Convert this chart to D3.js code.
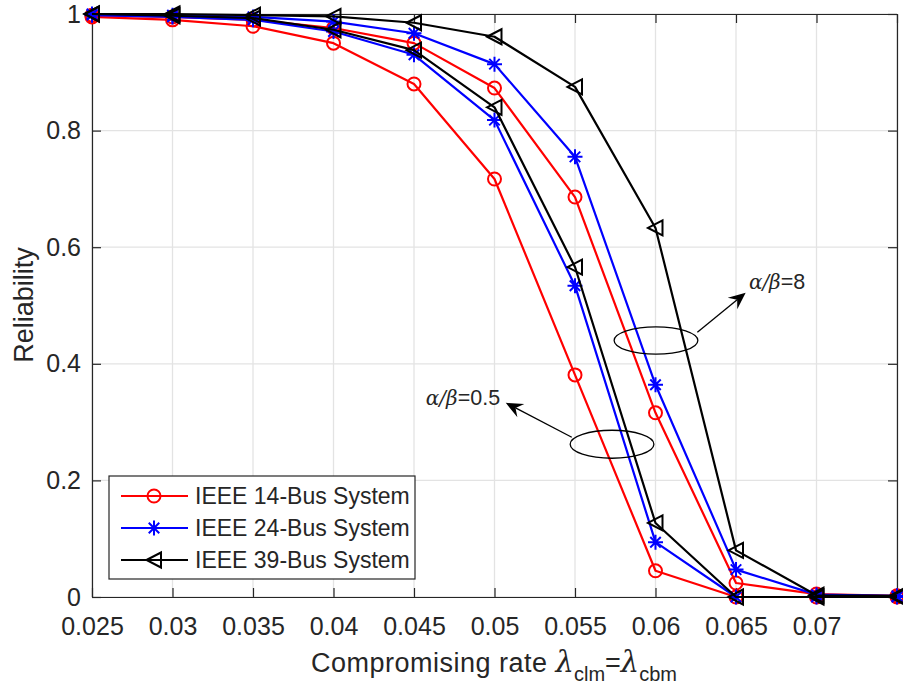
<!DOCTYPE html>
<html><head><meta charset="utf-8">
<script src="https://cdn.jsdelivr.net/npm/d3@7"></script>
<style>body{margin:0;background:#fff}svg{display:block}</style>
</head><body>
<svg id="c" width="903" height="693"></svg>
<script>
const xValues = [0.025,0.03,0.035,0.04,0.045,0.05,0.055,0.06,0.065,0.07,0.075];
const red_a05   = [0.995,0.990,0.979,0.950,0.880,0.717,0.381,0.045,0.000,0.000,0.000];
const red_a8    = [0.998,0.995,0.990,0.976,0.950,0.873,0.686,0.316,0.024,0.005,0.002];
const blue_a05  = [0.998,0.995,0.990,0.970,0.930,0.818,0.534,0.094,0.000,0.000,0.000];
const blue_a8   = [1.000,0.998,0.995,0.987,0.967,0.914,0.755,0.364,0.047,0.004,0.002];
const black_a05 = [1.000,0.997,0.993,0.973,0.938,0.840,0.566,0.127,0.000,0.000,0.000];
const black_a8  = [1.000,1.000,0.998,0.996,0.985,0.961,0.875,0.633,0.080,0.003,0.002];
const xTicks = [0.025,0.03,0.035,0.04,0.045,0.05,0.055,0.06,0.065,0.07,0.075];
const xTickLabels = ["0.025","0.03","0.035","0.04","0.045","0.05","0.055","0.06","0.065","0.07",""];
const yTicks = [0,0.2,0.4,0.6,0.8,1];
const yTickLabels = ["0","0.2","0.4","0.6","0.8","1"];
const legendLabels = ["IEEE 14-Bus System","IEEE 24-Bus System","IEEE 39-Bus System"];

const series = [
  {v: red_a05, color:"#ff0000", marker:"o"},
  {v: red_a8, color:"#ff0000", marker:"o"},
  {v: blue_a05, color:"#0000ff", marker:"*"},
  {v: blue_a8, color:"#0000ff", marker:"*"},
  {v: black_a05, color:"#000000", marker:"<"},
  {v: black_a8, color:"#000000", marker:"<"}
];

const svg = d3.select("#c");
const L=92,R=897,T=14,B=597;
const x = d3.scaleLinear().domain([0.025,0.075]).range([L,R]);
const y = d3.scaleLinear().domain([0,1]).range([B,T]);
const font = "'Liberation Sans', Arial, Helvetica, sans-serif";
const axCol = "#262626";

// grid
const g = svg.append("g");
g.selectAll(".gx").data(xTicks).enter().append("line")
  .attr("x1",d=>x(d)).attr("x2",d=>x(d)).attr("y1",T).attr("y2",B)
  .attr("stroke","#e3e3e3").attr("stroke-width",1.3);
g.selectAll(".gy").data(yTicks).enter().append("line")
  .attr("y1",d=>y(d)).attr("y2",d=>y(d)).attr("x1",L).attr("x2",R)
  .attr("stroke","#e3e3e3").attr("stroke-width",1.3);

// axes
const tl = 9;
const xAxisB = d3.axisBottom(x).tickValues(xTicks).tickSize(-tl).tickSizeOuter(0).tickPadding(20)
  .tickFormat((d,i)=>xTickLabels[i]);
const xAxisT = d3.axisTop(x).tickValues(xTicks).tickSize(-tl).tickSizeOuter(0).tickFormat("");
const yAxisL = d3.axisLeft(y).tickValues(yTicks).tickSize(-tl).tickSizeOuter(0).tickPadding(11)
  .tickFormat((d,i)=>yTickLabels[i]);
const yAxisR = d3.axisRight(y).tickValues(yTicks).tickSize(-tl).tickSizeOuter(0).tickFormat("");
function style(sel){
  sel.select(".domain").attr("stroke",axCol).attr("stroke-width",1.2);
  sel.selectAll(".tick line").attr("stroke",axCol).attr("stroke-width",1.2);
  sel.selectAll(".tick text").attr("fill",axCol).attr("font-family",font).attr("font-size",25);
}
svg.append("g").attr("transform",`translate(0,${B})`).call(xAxisB).call(style);
svg.append("g").attr("transform",`translate(0,${T})`).call(xAxisT).call(style);
svg.append("g").attr("transform",`translate(${L},0)`).call(yAxisL).call(style);
svg.append("g").attr("transform",`translate(${R},0)`).call(yAxisR).call(style);

// markers
function drawMarker(sel, type, color){
  if(type==="o"){
    sel.append("circle").attr("r",6.5).attr("fill","none").attr("stroke",color).attr("stroke-width",2);
  } else if(type==="*"){
    const s=7.5;
    const p = `M${-s},0L${s},0M0,${-s}L0,${s}M${-s*0.7},${-s*0.7}L${s*0.7},${s*0.7}M${-s*0.7},${s*0.7}L${s*0.7},${-s*0.7}`;
    sel.append("path").attr("d",p).attr("stroke",color).attr("stroke-width",2).attr("fill","none");
  } else {
    sel.append("path").attr("d","M-7.5,0L7,-7.5L7,7.5Z").attr("fill","none").attr("stroke",color).attr("stroke-width",2).attr("stroke-linejoin","miter");
  }
}

const line = d3.line().x((d,i)=>x(xValues[i])).y(d=>y(d));
const plot = svg.append("g");
series.forEach(s=>{
  plot.append("path").datum(s.v).attr("d",line).attr("fill","none")
    .attr("stroke",s.color).attr("stroke-width",2.2).attr("stroke-linejoin","round");
  s.v.forEach((v,i)=>{
    const m = plot.append("g").attr("transform",`translate(${x(xValues[i])},${y(v)})`);
    drawMarker(m, s.marker, s.color);
  });
});

// annotations (in data units)
const annot = [
  {cx:0.06003, cy:0.440, rx:0.0026, ry:0.0235, from:[0.0626,0.454], to:[0.0656,0.522], text:[0.0658,0.528], anchor:"start", val:"8"},
  {cx:0.0573, cy:0.262, rx:0.0026, ry:0.024, from:[0.0548,0.274], to:[0.0507,0.333], text:[0.05035,0.329], anchor:"end", val:"0.5"}
];
annot.forEach(a=>{
  svg.append("ellipse").attr("cx",x(a.cx)).attr("cy",y(a.cy))
    .attr("rx",x(a.cx+a.rx)-x(a.cx)).attr("ry",y(a.cy)-y(a.cy+a.ry))
    .attr("fill","none").attr("stroke","#000").attr("stroke-width",1.3);
  const x1=x(a.from[0]), y1=y(a.from[1]), x2=x(a.to[0]), y2=y(a.to[1]);
  const ang=Math.atan2(y2-y1,x2-x1);
  const hl=17, hw=7.5, notch=11;
  const ux=Math.cos(ang), uy=Math.sin(ang);
  const bx=x2-ux*hl, by=y2-uy*hl;
  const nx=x2-ux*notch, ny=y2-uy*notch;
  svg.append("line").attr("x1",x1).attr("y1",y1).attr("x2",nx).attr("y2",ny).attr("stroke","#000").attr("stroke-width",1.3);
  svg.append("path").attr("d",`M${x2},${y2}L${bx-uy*hw},${by+ux*hw}L${nx},${ny}L${bx+uy*hw},${by-ux*hw}Z`).attr("fill","#000");
  const t = svg.append("text").attr("x",x(a.text[0])).attr("y",y(a.text[1]))
    .attr("text-anchor",a.anchor).attr("font-size",21.5).attr("fill","#262626").attr("font-family",font);
  t.append("tspan").attr("font-family","'DejaVu Serif', serif").attr("font-style","italic").attr("font-size",20).text("α/β");
  t.append("tspan").text("="+a.val);
});

// legend
const lg = svg.append("g");
lg.append("rect").attr("x",109).attr("y",476).attr("width",306).attr("height",103)
  .attr("fill","#fff").attr("stroke",axCol).attr("stroke-width",1.2);
const legSeries=[series[0],series[2],series[4]];
legSeries.forEach((s,i)=>{
  const yy=496+i*32;
  lg.append("line").attr("x1",121).attr("x2",188).attr("y1",yy).attr("y2",yy).attr("stroke",s.color).attr("stroke-width",2.2);
  const m=lg.append("g").attr("transform",`translate(154,${yy})`);
  drawMarker(m,s.marker,s.color);
  lg.append("text").attr("x",195).attr("y",yy+8).attr("font-family",font).attr("font-size",23)
    .attr("fill",axCol).text(legendLabels[i]);
});

// axis labels
svg.append("text").attr("transform","translate(32.5,305) rotate(-90)").attr("text-anchor","middle")
  .attr("font-family",font).attr("font-size",27).attr("fill",axCol).text("Reliability");
const xl = svg.append("text").attr("x",311).attr("y",672).attr("font-family",font).attr("font-size",27).attr("fill",axCol);
xl.append("tspan").attr("letter-spacing",0.5).text("Compromising rate ");
xl.append("tspan").attr("font-family","'DejaVu Serif', serif").attr("font-style","italic").attr("font-size",29).text("λ");
xl.append("tspan").attr("font-size",20).attr("dy",9).text("clm");
xl.append("tspan").attr("dy",-9).text("=");
xl.append("tspan").attr("font-family","'DejaVu Serif', serif").attr("font-style","italic").attr("font-size",29).text("λ");
xl.append("tspan").attr("font-size",20).attr("dy",9).text("cbm");
</script>
</body></html>
